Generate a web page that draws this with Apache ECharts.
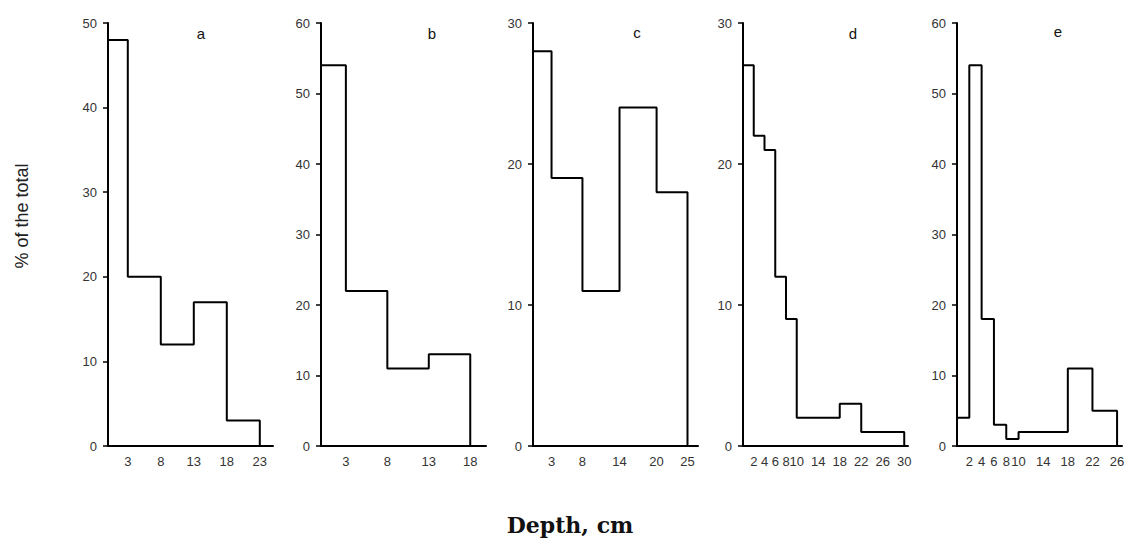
<!DOCTYPE html>
<html><head><meta charset="utf-8">
<script src="https://cdn.jsdelivr.net/npm/echarts@6/dist/echarts.min.js"></script>
<style>html,body{margin:0;padding:0;background:#fff}#c{width:1128px;height:546px}</style>
</head><body><div id="c"></div>
<script>
// ---- data ----
const panelLabels = ['a', 'b', 'c', 'd', 'e'];

const aEdges = [0, 3, 8, 13, 18, 23];
const aValues = [48, 20, 12, 17, 3];
const aTicks = [3, 8, 13, 18, 23];

const bEdges = [0, 3, 8, 13, 18];
const bValues = [54, 22, 11, 13];
const bTicks = [3, 8, 13, 18];

const cEdges = [0, 3, 8, 14, 20, 25];
const cValues = [28, 19, 11, 24, 18];
const cTicks = [3, 8, 14, 20, 25];

const dEdges = [0, 2, 4, 6, 8, 10, 18, 22, 30];
const dValues = [27, 22, 21, 12, 9, 2, 3, 1];
const dTicks = [2, 4, 6, 8, 10, 14, 18, 22, 26, 30];

const eEdges = [0, 2, 4, 6, 8, 10, 18, 22, 26];
const eValues = [4, 54, 18, 3, 1, 2, 11, 5];
const eTicks = [2, 4, 6, 8, 10, 14, 18, 22, 26];

const yMaxes = [50, 60, 30, 30, 60];
const yTickStep = 10;
const xMaxes = [25, 19.9, 26.7, 30.7, 26.8];

const yTitle = '% of the total';
const xTitle = 'Depth, cm';

// ---- layout (styles/positions) ----
const gridLefts = [108, 321, 533, 743, 957];
const gridWidth = 165;
const gridTop = 23;
const gridHeight = 423;
const letterPos = [[201, 33], [432, 33], [637, 32], [853, 33], [1058, 31]];

const edgesList = [aEdges, bEdges, cEdges, dEdges, eEdges];
const valuesList = [aValues, bValues, cValues, dValues, eValues];
const ticksList = [aTicks, bTicks, cTicks, dTicks, eTicks];

function stepPoints(edges, values) {
  const pts = [[edges[0], 0]];
  for (let i = 0; i < values.length; i++) pts.push([edges[i], values[i]]);
  pts.push([edges[edges.length - 1], 0]);
  return pts;
}

const labelStyle = { color: '#333', fontSize: 13, fontFamily: 'Liberation Sans, Arial, sans-serif' };

const grids = [], xAxes = [], yAxes = [], series = [], graphics = [];
for (let i = 0; i < 5; i++) {
  grids.push({ left: gridLefts[i], width: gridWidth, top: gridTop, height: gridHeight, containLabel: false, outerBoundsMode: 'none' });
  xAxes.push({
    gridIndex: i, type: 'value', min: 0, max: xMaxes[i],
    axisLine: { show: true, lineStyle: { color: '#000', width: 2 } },
    axisTick: { show: false },
    splitLine: { show: false },
    axisLabel: Object.assign({ customValues: ticksList[i], margin: 9, hideOverlap: false }, labelStyle)
  });
  yAxes.push({
    gridIndex: i, type: 'value', min: 0, max: yMaxes[i], interval: yTickStep,
    axisLine: { show: true, lineStyle: { color: '#000', width: 2 } },
    axisTick: { show: true, length: 5, lineStyle: { color: '#000', width: 1.5 } },
    splitLine: { show: false },
    axisLabel: Object.assign({ margin: 11 }, labelStyle)
  });
  series.push({
    type: 'line', xAxisIndex: i, yAxisIndex: i, step: 'end',
    showSymbol: false, symbol: 'none', clip: false,
    lineStyle: { color: '#000', width: 2 },
    data: stepPoints(edgesList[i], valuesList[i])
  });
  graphics.push({
    type: 'text', x: letterPos[i][0], y: letterPos[i][1],
    style: { text: panelLabels[i], font: '15px "Liberation Sans", Arial, sans-serif', fill: '#111',
      align: 'center', verticalAlign: 'middle', textAlign: 'center', textVerticalAlign: 'middle' }
  });
}
graphics.push({
  type: 'text', x: 22, y: 216, rotation: Math.PI / 2,
  style: { text: yTitle, font: '18px "Liberation Sans", Arial, sans-serif', fill: '#222',
    align: 'center', verticalAlign: 'middle', textAlign: 'center', textVerticalAlign: 'middle' }
});
graphics.push({
  type: 'text', x: 570, y: 525,
  style: { text: xTitle, font: 'bold 22px "DejaVu Serif", serif', fill: '#111',
    align: 'center', verticalAlign: 'middle', textAlign: 'center', textVerticalAlign: 'middle' }
});

const chart = echarts.init(document.getElementById('c'), null, { renderer: 'svg' });
chart.setOption({
  animation: false,
  backgroundColor: '#fff',
  grid: grids, xAxis: xAxes, yAxis: yAxes, series: series, graphic: graphics
});
</script>
</body></html>
